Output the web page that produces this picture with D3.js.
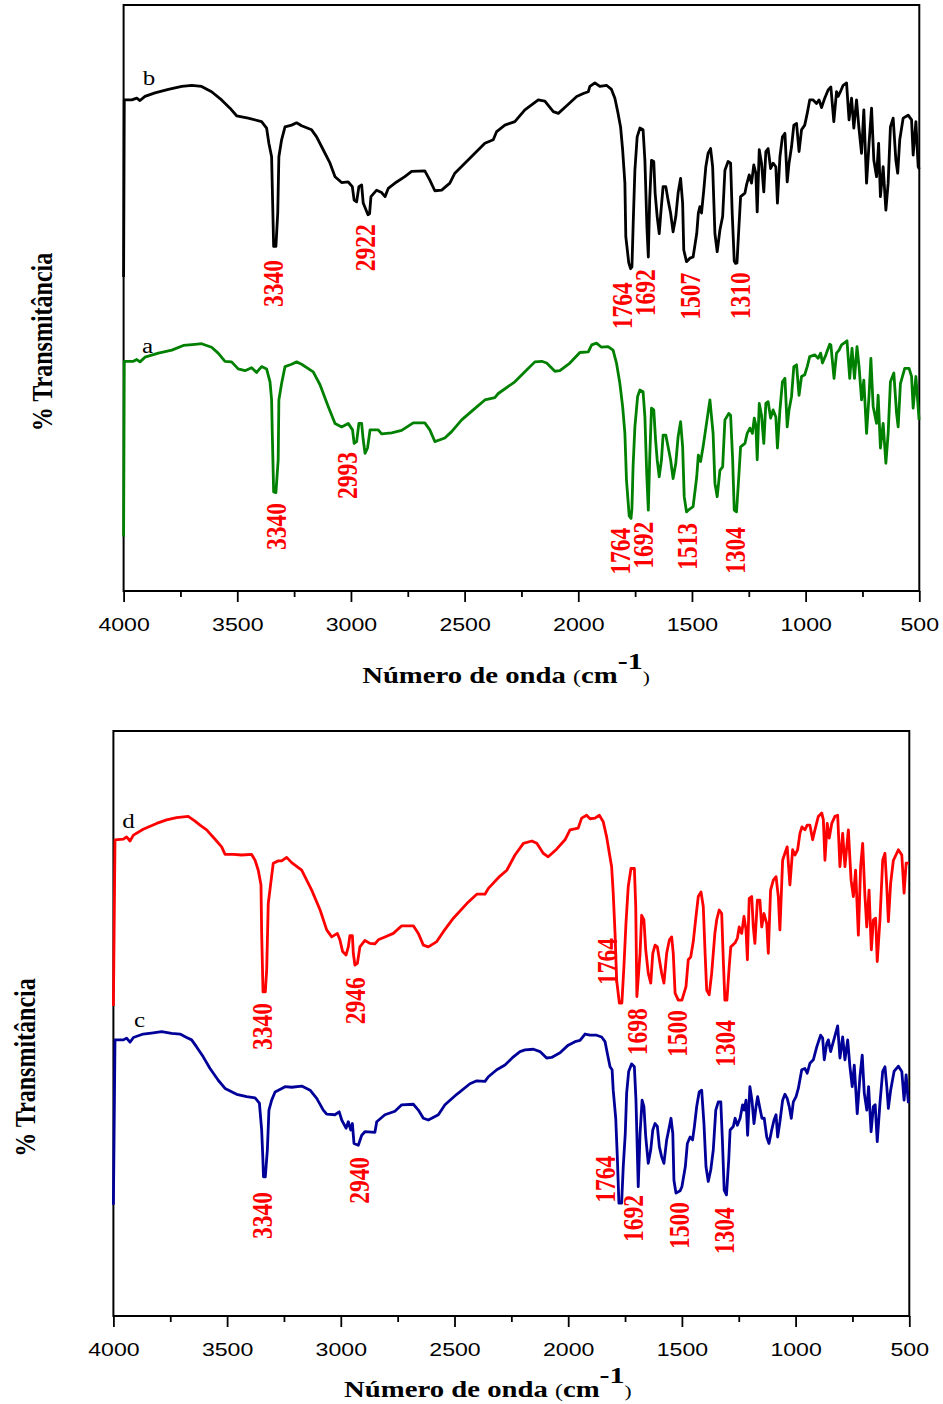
<!DOCTYPE html>
<html>
<head>
<meta charset="utf-8">
<script src="https://cdn.jsdelivr.net/npm/d3@7"></script>
<style>
  body { margin: 0; background: #fff; }
  svg { display: block; }
</style>
</head>
<body>
<svg id="chart" width="943" height="1404"></svg>
<script>
// ---- FTIR spectra: [wavenumber (cm-1), transmittance (arbitrary %, offset per trace)] ----
const spectrumB = [[4000,53.6],[3997,83.8],[3964,83.8],[3942,84.1],[3928,83.7],[3906,84.4],[3862,85.0],[3803,85.6],[3744,86.1],[3700,86.3],[3657,86.1],[3613,85.2],[3569,83.8],[3532,82.4],[3503,81.1],[3452,80.7],[3393,80.1],[3371,79.0],[3361,76.4],[3349,74.1],[3346,69.0],[3340,58.8],[3330,58.8],[3322,64.5],[3317,74.1],[3305,77.0],[3290,79.2],[3261,79.5],[3239,79.9],[3217,79.4],[3173,78.7],[3151,77.5],[3122,75.3],[3092,73.0],[3070,70.7],[3041,69.7],[3012,69.8],[2994,69.0],[2986,66.7],[2975,66.4],[2965,69.0],[2953,69.3],[2946,66.2],[2925,64.2],[2918,64.4],[2912,67.3],[2887,68.4],[2865,68.0],[2850,67.3],[2836,68.7],[2799,69.8],[2763,70.7],[2733,71.6],[2675,71.7],[2653,70.1],[2631,68.3],[2601,68.4],[2565,69.6],[2543,71.3],[2499,73.0],[2455,74.7],[2411,76.4],[2374,77.0],[2359,78.4],[2323,79.5],[2279,80.1],[2235,82.1],[2176,83.8],[2147,83.6],[2110,81.8],[2088,81.5],[2051,82.8],[2007,84.4],[1978,84.9],[1956,85.2],[1949,86.1],[1927,86.7],[1905,86.1],[1876,86.3],[1854,85.6],[1839,84.1],[1825,81.5],[1814,79.2],[1805,75.3],[1795,69.6],[1791,60.5],[1778,56.0],[1770,55.0],[1764,55.3],[1758,63.3],[1751,71.8],[1741,77.5],[1729,79.0],[1715,78.7],[1707,73.5],[1698,62.0],[1692,57.0],[1686,66.7],[1678,73.5],[1668,73.3],[1662,67.9],[1653,63.9],[1644,61.0],[1637,64.5],[1627,69.0],[1615,69.0],[1605,66.7],[1594,64.5],[1583,61.3],[1571,63.9],[1561,67.9],[1550,70.4],[1541,66.2],[1536,58.2],[1524,56.2],[1509,56.8],[1495,57.0],[1479,61.0],[1472,64.5],[1465,65.6],[1458,64.5],[1448,68.4],[1439,72.4],[1429,74.7],[1418,75.5],[1409,72.4],[1399,61.0],[1389,57.9],[1377,61.6],[1365,63.9],[1355,71.8],[1341,73.3],[1330,73.0],[1323,64.5],[1314,56.3],[1308,55.9],[1302,56.0],[1295,61.0],[1286,67.3],[1267,67.9],[1260,69.3],[1248,71.0],[1238,69.6],[1228,72.7],[1219,71.3],[1213,64.7],[1204,75.3],[1194,73.0],[1184,68.1],[1175,75.0],[1165,75.5],[1154,72.1],[1143,73.0],[1131,72.4],[1124,66.2],[1113,74.1],[1102,77.5],[1091,78.1],[1081,69.8],[1073,73.0],[1062,75.8],[1052,79.5],[1040,79.8],[1029,75.0],[1018,78.7],[1004,79.5],[993,81.5],[982,83.8],[967,83.8],[952,83.2],[941,83.8],[930,82.5],[916,84.1],[901,85.5],[889,86.0],[876,80.1],[864,85.2],[857,84.4],[847,85.2],[835,86.3],[820,86.7],[809,80.4],[798,84.1],[788,79.0],[776,83.8],[766,79.2],[754,74.7],[744,82.1],[732,69.6],[721,76.4],[710,82.4],[700,73.5],[688,70.7],[679,76.4],[671,67.3],[659,72.4],[647,65.0],[637,69.6],[627,79.2],[615,80.7],[603,73.5],[595,71.3],[586,77.0],[571,80.7],[549,81.2],[534,80.4],[527,74.4],[515,80.1],[505,72.4],[500,72.0]];

const spectrumA = [[4000,9.3],[3997,39.2],[3957,39.2],[3942,39.5],[3928,39.1],[3906,39.9],[3847,40.6],[3788,41.1],[3737,41.9],[3686,42.1],[3657,42.2],[3613,41.6],[3584,40.6],[3554,39.2],[3525,39.1],[3496,37.9],[3466,37.6],[3437,38.1],[3415,37.3],[3393,38.3],[3371,37.9],[3356,35.7],[3349,32.6],[3346,26.9],[3340,16.9],[3330,16.8],[3320,22.4],[3317,32.6],[3305,35.4],[3290,38.3],[3261,38.7],[3239,39.1],[3217,38.7],[3166,37.4],[3136,35.2],[3100,31.5],[3070,28.6],[3041,28.0],[3012,28.6],[2993,27.5],[2986,25.2],[2975,25.5],[2965,28.6],[2953,28.6],[2946,25.8],[2938,23.5],[2927,24.4],[2916,27.5],[2880,27.5],[2865,26.8],[2821,27.0],[2777,27.4],[2726,28.7],[2675,28.7],[2653,27.5],[2631,25.5],[2587,26.1],[2557,27.2],[2513,29.2],[2462,30.9],[2411,32.6],[2367,33.0],[2352,33.7],[2279,35.7],[2235,37.4],[2191,39.1],[2161,39.2],[2139,38.9],[2103,37.5],[2081,37.6],[2037,38.9],[1993,40.7],[1956,40.8],[1941,42.0],[1920,42.3],[1898,41.6],[1869,41.7],[1847,41.1],[1832,38.9],[1817,35.4],[1805,31.5],[1795,26.9],[1788,18.9],[1776,12.8],[1768,12.4],[1764,14.1],[1759,21.2],[1751,28.0],[1739,33.2],[1729,34.3],[1715,34.0],[1707,29.7],[1699,20.0],[1692,13.8],[1686,22.4],[1678,31.2],[1668,30.9],[1660,25.8],[1653,22.4],[1644,19.5],[1634,22.4],[1627,26.6],[1615,26.6],[1605,24.6],[1594,22.4],[1583,19.2],[1571,21.8],[1561,26.3],[1550,28.9],[1541,24.6],[1534,16.1],[1524,13.5],[1513,13.9],[1495,14.4],[1479,19.5],[1472,23.2],[1462,22.1],[1451,24.6],[1436,28.6],[1421,32.6],[1407,26.9],[1399,18.4],[1389,16.1],[1377,20.6],[1365,21.2],[1355,29.2],[1338,30.3],[1330,30.0],[1321,22.4],[1314,13.8],[1304,13.5],[1295,18.9],[1286,24.6],[1267,25.2],[1257,26.9],[1245,27.8],[1234,26.9],[1226,29.5],[1219,28.3],[1213,22.4],[1204,32.0],[1194,30.0],[1184,25.2],[1175,32.0],[1165,32.3],[1154,29.5],[1143,30.9],[1131,29.7],[1124,24.4],[1113,30.9],[1102,35.7],[1091,36.3],[1081,28.0],[1073,30.9],[1062,33.2],[1052,38.3],[1040,38.6],[1029,33.4],[1018,36.6],[1004,36.9],[993,38.3],[982,40.0],[960,40.3],[945,39.7],[934,40.6],[926,38.9],[911,40.3],[894,42.1],[889,42.0],[875,36.3],[864,40.6],[853,41.1],[842,42.0],[828,42.4],[818,42.7],[806,36.3],[796,41.4],[785,36.3],[774,41.7],[765,38.3],[754,32.6],[744,36.0],[732,26.9],[721,33.4],[713,39.7],[703,31.5],[688,28.6],[681,33.4],[671,24.4],[659,28.6],[647,21.8],[637,26.9],[627,35.7],[612,37.2],[600,30.3],[593,28.0],[583,35.4],[564,38.0],[545,38.0],[534,36.6],[527,31.2],[515,36.6],[501,29.2]];

const spectrumD = [[4000,53.0],[3993,81.4],[3956,81.5],[3942,81.9],[3927,81.2],[3912,82.2],[3869,83.2],[3810,84.2],[3766,84.8],[3722,85.2],[3671,85.4],[3641,84.6],[3619,83.9],[3590,83.1],[3553,81.5],[3524,80.2],[3509,78.9],[3473,78.9],[3436,78.8],[3392,78.9],[3377,77.9],[3363,76.2],[3351,73.7],[3348,65.4],[3342,55.4],[3332,55.4],[3326,59.1],[3319,70.5],[3308,74.0],[3297,77.4],[3275,77.8],[3260,77.8],[3238,78.4],[3216,77.5],[3172,76.2],[3150,74.5],[3128,72.8],[3091,69.4],[3062,66.0],[3040,64.8],[3015,65.4],[3004,64.3],[2992,62.3],[2977,61.7],[2967,63.1],[2960,65.0],[2949,65.0],[2945,62.0],[2938,60.0],[2927,60.3],[2916,63.1],[2894,64.2],[2872,63.7],[2850,63.6],[2835,64.3],[2806,64.8],[2769,65.4],[2732,66.7],[2681,66.7],[2659,65.4],[2637,63.4],[2615,63.1],[2578,64.0],[2549,65.7],[2505,68.0],[2446,70.5],[2402,72.1],[2366,72.1],[2351,73.1],[2300,75.2],[2270,76.2],[2234,78.8],[2197,80.8],[2160,81.2],[2138,80.8],[2110,79.1],[2088,78.5],[2051,79.8],[2014,81.4],[1992,83.1],[1956,83.4],[1941,85.1],[1919,85.6],[1904,85.0],[1882,85.1],[1863,85.6],[1846,84.5],[1831,81.9],[1819,79.1],[1809,76.8],[1802,72.3],[1794,65.4],[1787,57.4],[1775,53.5],[1764,53.5],[1755,59.7],[1746,67.1],[1736,73.4],[1724,76.5],[1709,76.5],[1703,70.0],[1698,54.6],[1684,62.0],[1677,68.5],[1667,67.7],[1659,62.6],[1648,58.6],[1637,56.9],[1628,62.0],[1618,63.4],[1608,63.1],[1599,60.9],[1589,58.6],[1579,56.9],[1567,62.0],[1555,64.3],[1545,64.8],[1538,62.0],[1530,55.2],[1516,54.0],[1500,54.0],[1482,56.3],[1472,60.9],[1461,61.4],[1450,64.0],[1438,68.3],[1428,71.7],[1416,72.5],[1406,70.0],[1398,62.0],[1391,55.7],[1380,54.9],[1369,58.6],[1355,65.4],[1347,67.7],[1336,69.4],[1325,68.8],[1318,60.9],[1311,54.0],[1302,54.0],[1292,59.7],[1285,63.1],[1266,63.8],[1256,64.6],[1248,66.5],[1237,65.4],[1227,68.3],[1218,66.0],[1212,60.9],[1204,71.4],[1193,71.7],[1186,66.5],[1179,63.7],[1168,71.1],[1157,71.1],[1149,66.5],[1139,68.8],[1127,67.1],[1120,62.0],[1110,72.8],[1098,74.5],[1086,75.1],[1076,71.7],[1069,66.0],[1057,77.9],[1047,79.1],[1037,80.2],[1025,73.7],[1013,79.7],[1003,78.8],[991,79.7],[981,82.5],[972,83.6],[959,83.1],[949,83.9],[937,83.9],[925,81.4],[915,83.1],[900,85.4],[885,86.0],[878,84.8],[871,77.9],[861,84.2],[852,81.7],[841,84.2],[827,85.4],[815,85.6],[805,76.8],[793,82.5],[783,76.8],[768,83.1],[756,74.5],[746,71.7],[736,76.2],[724,65.1],[714,76.8],[705,80.8],[695,71.7],[687,66.5],[677,72.8],[667,62.6],[658,67.7],[648,68.0],[641,60.6],[629,67.7],[617,77.9],[607,79.1],[599,73.4],[592,67.4],[582,74.0],[570,77.9],[548,79.7],[533,78.8],[523,72.3],[514,77.4],[502,77.4]];

const spectrumC = [[4000,19.0],[3993,47.2],[3956,47.2],[3942,47.5],[3927,46.8],[3912,47.6],[3869,48.2],[3825,48.4],[3788,48.6],[3744,48.3],[3707,48.2],[3678,47.6],[3656,47.2],[3634,46.0],[3605,44.3],[3575,42.3],[3539,40.3],[3509,38.9],[3458,37.9],[3414,37.5],[3377,37.3],[3358,36.4],[3348,31.8],[3343,27.2],[3340,23.8],[3332,23.8],[3323,28.4],[3316,35.2],[3304,36.9],[3289,38.3],[3245,39.2],[3216,39.1],[3172,39.3],[3135,38.6],[3106,37.2],[3077,35.2],[3062,34.5],[3026,34.4],[3007,34.9],[2996,33.5],[2977,32.1],[2967,33.2],[2956,31.8],[2949,32.9],[2942,29.5],[2923,29.2],[2908,30.9],[2894,31.5],[2850,31.4],[2842,33.2],[2806,34.4],[2762,35.0],[2732,36.1],[2681,36.2],[2659,35.2],[2637,33.8],[2615,33.5],[2571,34.4],[2542,36.1],[2490,37.9],[2432,39.7],[2402,40.2],[2366,40.1],[2351,40.9],[2314,42.1],[2278,42.9],[2241,44.3],[2212,45.2],[2190,45.5],[2153,45.6],[2124,45.2],[2095,44.1],[2073,44.2],[2036,45.0],[2000,46.3],[1970,46.9],[1948,47.1],[1926,48.2],[1904,48.0],[1875,48.0],[1853,47.7],[1838,46.9],[1828,44.9],[1816,42.6],[1807,42.1],[1802,38.6],[1791,33.8],[1784,27.2],[1777,19.3],[1765,19.3],[1758,25.5],[1749,31.2],[1743,38.1],[1734,41.8],[1721,43.1],[1709,42.6],[1702,36.9],[1692,22.1],[1684,31.2],[1675,36.9],[1667,35.8],[1659,30.6],[1648,26.1],[1637,28.4],[1628,31.8],[1618,32.9],[1608,32.4],[1599,28.9],[1589,27.2],[1579,26.1],[1567,30.1],[1555,32.4],[1548,33.8],[1540,31.2],[1535,23.2],[1526,21.0],[1508,21.4],[1500,22.1],[1485,25.5],[1476,29.5],[1464,30.6],[1453,30.1],[1445,32.4],[1435,35.8],[1424,38.3],[1413,38.6],[1403,32.9],[1394,25.5],[1384,23.0],[1373,25.0],[1362,28.4],[1351,35.2],[1340,36.6],[1329,36.6],[1322,30.1],[1314,21.5],[1304,20.7],[1294,26.7],[1288,31.8],[1274,32.4],[1266,33.8],[1256,32.6],[1244,33.8],[1233,36.1],[1226,35.2],[1218,36.9],[1211,30.9],[1201,39.2],[1192,36.9],[1183,32.9],[1174,35.8],[1167,37.5],[1157,35.5],[1148,33.8],[1138,33.8],[1127,30.6],[1117,29.5],[1105,31.8],[1095,33.5],[1086,34.4],[1079,30.6],[1069,33.2],[1057,36.9],[1047,37.9],[1037,37.2],[1028,35.8],[1019,33.8],[1010,36.6],[998,37.5],[988,38.9],[973,42.1],[959,42.3],[949,41.5],[937,43.2],[922,43.8],[907,46.0],[890,48.0],[881,47.5],[874,43.8],[863,46.6],[856,47.2],[846,45.2],[834,46.9],[822,48.6],[815,49.6],[805,44.1],[793,47.7],[783,43.8],[771,47.2],[761,42.6],[751,39.2],[742,42.9],[729,34.6],[717,40.9],[707,44.6],[698,38.1],[687,35.2],[679,39.2],[668,31.5],[658,35.8],[650,36.1],[641,29.8],[629,36.4],[617,41.8],[607,42.6],[599,39.2],[592,35.5],[582,38.6],[567,41.8],[548,42.7],[533,41.8],[523,36.9],[514,41.2],[504,36.4]];

// Band assignments written beside each trace
const peaksB = ["3340", "2922", "1764", "1692", "1507", "1310"];
const peaksA = ["3340", "2993", "1764", "1692", "1513", "1304"];
const peaksD = ["3340", "2946", "1764", "1698", "1500", "1304"];
const peaksC = ["3340", "2940", "1764", "1692", "1500", "1304"];

// Where each band label sits, in [wavenumber, transmittance] (top end of the rotated label)
const peakSpotsB = [[3343,56.5],[2938,62.6],[1808,52.7],[1707,54.9],[1509,54.3],[1289,54.4]];
const peakSpotsA = [[3330,15.0],[3018,23.7],[1817,10.8],[1716,11.8],[1522,11.6],[1311,10.9]];
const peakSpotsD = [[3347,53.5],[2938,57.9],[1829,64.6],[1697,52.6],[1522,52.3],[1311,50.6]];
const peakSpotsC = [[3347,21.2],[2920,27.2],[1838,27.4],[1715,20.7],[1513,19.5],[1315,18.6]];

// Trace names and where they are written
const traceNames = ["b", "a", "d", "c"];
const traceNameSpots = [[3888,86.3],[3895,40.6],[3934,83.4],[3885,49.4]];

const majorTicks = [4000, 3500, 3000, 2500, 2000, 1500, 1000, 500];
const minorTicks = [3750, 3250, 2750, 2250, 1750, 1250, 750];
const xTitle = "Número de onda";
const yTitle = "% Transmitância";

// ---- drawing ----
const STRETCH = 1.25;              // lettering is drawn slightly wide
const SERIF = "'Liberation Serif', 'Times New Roman', serif";
const SANS = "'Liberation Sans', Arial, sans-serif";

const panels = [
  { box: { x0: 123.6, x1: 919.3, y0: 5, y1: 591 },
    traces: [
      { data: spectrumB, color: "#000000", peaks: peaksB, spots: peakSpotsB, name: 0 },
      { data: spectrumA, color: "#008000", peaks: peaksA, spots: peakSpotsA, name: 1 }
    ],
    tickLabelDy: 40, titleDx: -15.5, titleDy: 92, yTitleX: 42 },
  { box: { x0: 113.4, x1: 909.3, y0: 731, y1: 1316 },
    traces: [
      { data: spectrumD, color: "#ff0000", peaks: peaksD, spots: peakSpotsD, name: 2 },
      { data: spectrumC, color: "#000099", peaks: peaksC, spots: peakSpotsC, name: 3 }
    ],
    tickLabelDy: 40, titleDx: -23.5, titleDy: 81, yTitleX: 25 }
];

const svg = d3.select("#chart");

panels.forEach(p => {
  const b = p.box;
  const x = d3.scaleLinear().domain([4000, 500]).range([b.x0, b.x1]);
  const y = d3.scaleLinear().domain([0, 100]).range([b.y1, b.y0]);
  const g = svg.append("g");

  // frame
  g.append("rect")
    .attr("x", b.x0).attr("y", b.y0)
    .attr("width", b.x1 - b.x0).attr("height", b.y1 - b.y0)
    .attr("fill", "none").attr("stroke", "#000").attr("stroke-width", 2);

  // minor ticks
  const minorAxis = g.append("g")
    .attr("transform", `translate(0,${b.y1})`)
    .call(d3.axisBottom(x).tickValues(minorTicks).tickSize(6).tickFormat(""));
  minorAxis.select(".domain").remove();
  minorAxis.selectAll("line").attr("stroke-width", 1.8);

  // major ticks + labels
  const majorAxis = g.append("g")
    .attr("transform", `translate(0,${b.y1})`)
    .call(d3.axisBottom(x).tickValues(majorTicks).tickSize(11).tickFormat(d3.format("d")));
  majorAxis.select(".domain").remove();
  majorAxis.selectAll("line").attr("stroke-width", 1.8);
  majorAxis.selectAll("text")
    .attr("y", null).attr("dy", null)
    .attr("transform", `translate(0,${p.tickLabelDy}) scale(${STRETCH},1)`)
    .attr("fill", "#000")
    .style("font-family", SANS)
    .style("font-size", "18.5px");

  // x axis title
  const cx = (b.x0 + b.x1) / 2 + p.titleDx;
  const t = g.append("text")
    .attr("transform", `translate(${cx},${b.y1 + p.titleDy}) scale(${STRETCH},1)`)
    .attr("text-anchor", "middle")
    .style("font-family", SERIF)
    .style("font-size", "23px")
    .attr("fill", "#000");
  t.append("tspan").attr("font-weight", "bold").text(xTitle + " ");
  t.append("tspan").style("font-size", "19px").text("(");
  t.append("tspan").attr("font-weight", "bold").text("cm");
  t.append("tspan").attr("font-weight", "bold").attr("dy", -14).style("font-size", "24px").text("-1");
  t.append("tspan").attr("dy", 14).style("font-size", "17px").text(")");

  // y axis title
  g.append("text")
    .attr("transform", `translate(${p.yTitleX},${(b.y0 + b.y1) / 2 + 44}) scale(${STRETCH},1) rotate(-90)`)
    .attr("text-anchor", "middle")
    .attr("dy", "0.34em")
    .style("font-family", SERIF)
    .style("font-size", "24px")
    .attr("font-weight", "bold")
    .attr("fill", "#000")
    .text(yTitle);

  const line = d3.line().x(d => x(d[0])).y(d => y(d[1]));

  p.traces.forEach(tr => {
    g.append("path")
      .datum(tr.data)
      .attr("d", line)
      .attr("fill", "none")
      .attr("stroke", tr.color)
      .attr("stroke-width", 2.8)
      .attr("stroke-linejoin", "round");

    // trace name
    const ns = traceNameSpots[tr.name];
    g.append("text")
      .attr("transform", `translate(${x(ns[0])},${y(ns[1])}) scale(${STRETCH},1)`)
      .attr("text-anchor", "middle")
      .style("font-family", SERIF)
      .style("font-size", "20px")
      .attr("fill", "#000")
      .text(traceNames[tr.name]);

    // band labels
    g.selectAll(null)
      .data(tr.peaks.map((v, i) => ({ v, s: tr.spots[i] })))
      .enter().append("text")
      .attr("transform", d => `translate(${x(d.s[0])},${y(d.s[1])}) scale(${STRETCH},1) rotate(-90)`)
      .attr("text-anchor", "end")
      .attr("dy", "0.34em")
      .style("font-family", SERIF)
      .style("font-size", "23.5px")
      .attr("font-weight", "bold")
      .attr("fill", "#ff0000")
      .text(d => d.v);
  });
});
</script>
</body>
</html>
